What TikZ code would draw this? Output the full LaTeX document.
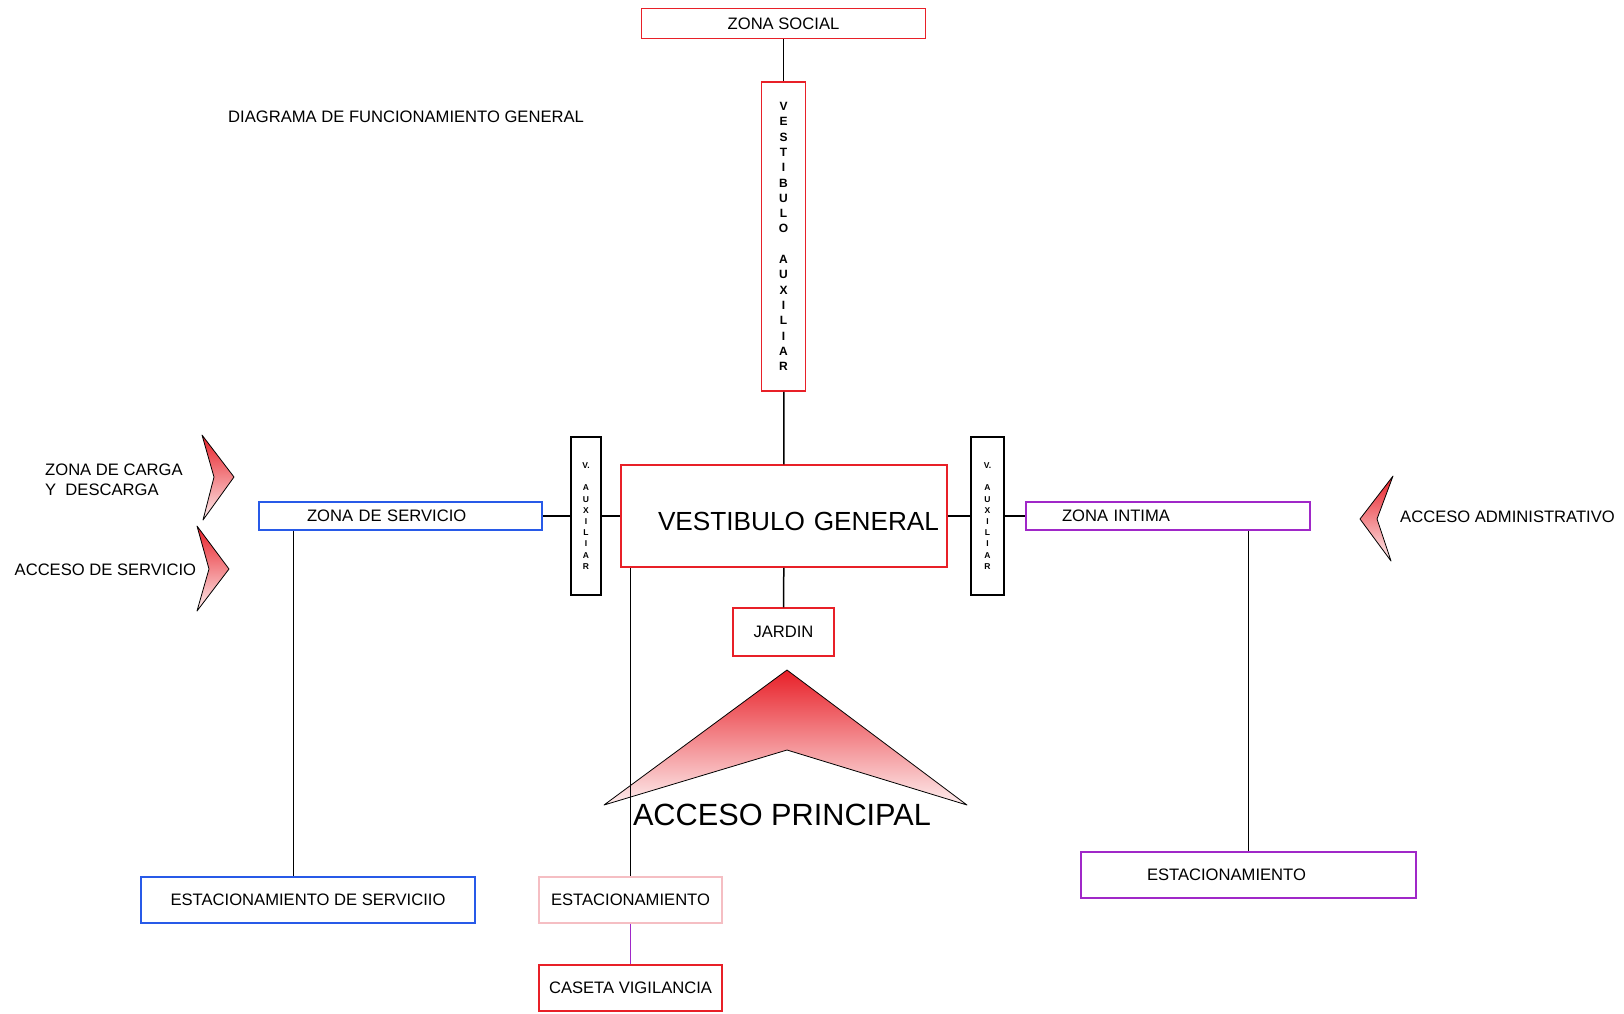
\documentclass[tikz,border=0pt]{standalone}
\usepackage{fontspec}
\setmainfont{Liberation Sans}
\definecolor{zred}{RGB}{232,32,40}
\definecolor{zblue}{RGB}{40,90,232}
\definecolor{zpurple}{RGB}{160,40,200}
\definecolor{zpink}{RGB}{245,190,195}
\tikzstyle{zone}=[draw,line width=1.5pt,minimum height=28pt,inner sep=0pt,font=\fontsize{16.6}{20}\selectfont]
\tikzstyle{word}=[inner sep=0pt,font=\fontsize{16.6}{20}\selectfont]
\tikzstyle{edge} = [draw,line width=1.5pt,-]
\tikzstyle{access}=[draw=black,line width=0.8pt,line join=round,top color=zred,bottom color=zred!8]

\begin{document}
\begin{tikzpicture}[x=1pt,y=-1pt]
    \useasboundingbox (0,0) rectangle (1624,1013);
    % First we draw the access arrows
    \path[access] (787,670) -- (967,805) -- (787,750) -- (604,805) -- cycle;
    \path[access] (202,435) -- (234,477) -- (203,520) -- (214,477) -- cycle;
    \path[access] (197,526) -- (229,569) -- (197,611) -- (209,569) -- cycle;
    \path[access] (1393,476) -- (1377,519) -- (1391,561) -- (1360,519) -- cycle;

    % Then the zones
    \node[zone,draw=zred,minimum width=284pt,minimum height=30pt] (zsocial) at (783.5,23.5) {ZONA SOCIAL};
    \node[zone,draw=zred,minimum width=44pt,minimum height=309pt,align=center,font=\bfseries\fontsize{12}{15.3}\selectfont] (vaux) at (783.5,236.5)
        {V\\E\\S\\T\\I\\B\\U\\L\\O\\[15.3pt]A\\U\\X\\I\\L\\I\\A\\R};
    \node[zone,draw=zred,text width=310pt,inner xsep=8pt,align=right,minimum height=102pt,text height=29pt,font=\fontsize{26.2}{30}\selectfont] (vgen) at (784,516) {VESTIBULO GENERAL};
    \node[zone,draw=black,minimum width=30pt,minimum height=158pt,align=center,font=\bfseries\fontsize{8.5}{11.2}\selectfont] (vauxl) at (586,516)
        {V.\\[11.2pt]A\\U\\X\\I\\L\\I\\A\\R};
    \node[zone,draw=black,minimum width=33pt,minimum height=158pt,align=center,font=\bfseries\fontsize{8.5}{11.2}\selectfont] (vauxr) at (987.5,516)
        {V.\\[11.2pt]A\\U\\X\\I\\L\\I\\A\\R};
    \node[zone,draw=zblue,text width=187pt,inner xsep=48pt,align=left] (zserv) at (400.5,516) {ZONA DE SERVICIO};
    \node[zone,draw=zpurple,text width=212pt,inner xsep=36pt,align=left] (zint) at (1168,516) {ZONA INTIMA};
    \node[zone,draw=zred,minimum width=101pt,minimum height=48pt] (jardin) at (783.5,632) {JARDIN};
    \node[zone,draw=zblue,minimum width=334pt,minimum height=46pt] (estserv) at (308,900) {ESTACIONAMIENTO DE SERVICIIO};
    \node[zone,draw=zpink,minimum width=183pt,minimum height=46pt] (estac) at (630.5,900) {ESTACIONAMIENTO};
    \node[zone,draw=zred,minimum width=183pt,minimum height=46pt] (caseta) at (630.5,988) {CASETA VIGILANCIA};
    \node[zone,draw=zpurple,text width=203pt,inner xsep=66pt,align=left,minimum height=46pt] (estint) at (1248.5,875) {ESTACIONAMIENTO};

    % Texts
    \node[word,anchor=west] (title) at (228,117) {DIAGRAMA DE FUNCIONAMIENTO GENERAL};
    \node[word,anchor=west,align=left] (carga) at (45,480) {ZONA DE CARGA\\Y\ \ DESCARGA};
    \node[word,anchor=west] (aserv) at (14.5,570) {ACCESO DE SERVICIO};
    \node[word,anchor=west] (aadmin) at (1400,517) {ACCESO ADMINISTRATIVO};
    \node[inner sep=0pt,font=\fontsize{30.7}{36}\selectfont] (aprin) at (782,815) {ACCESO PRINCIPAL};

    % Connect zones with edges
    \foreach \source/ \dest in {zsocial/vaux, vaux/vgen, vgen/jardin, zserv/vauxl, vauxl/vgen, vgen/vauxr, vauxr/zint}
        \path[edge] (\source) -- (\dest);
    \coordinate (sdrop) at ([xshift=35pt]zserv.south west);
    \path[edge] (sdrop) -- (sdrop |- estserv.north);
    \path[edge] (estac.north |- vgen.south) -- (estac.north);
    \path[edge] (estint.north |- zint.south) -- (estint.north);
    \path[edge,draw=zpurple] (estac) -- (caseta);
\end{tikzpicture}
\end{document}
